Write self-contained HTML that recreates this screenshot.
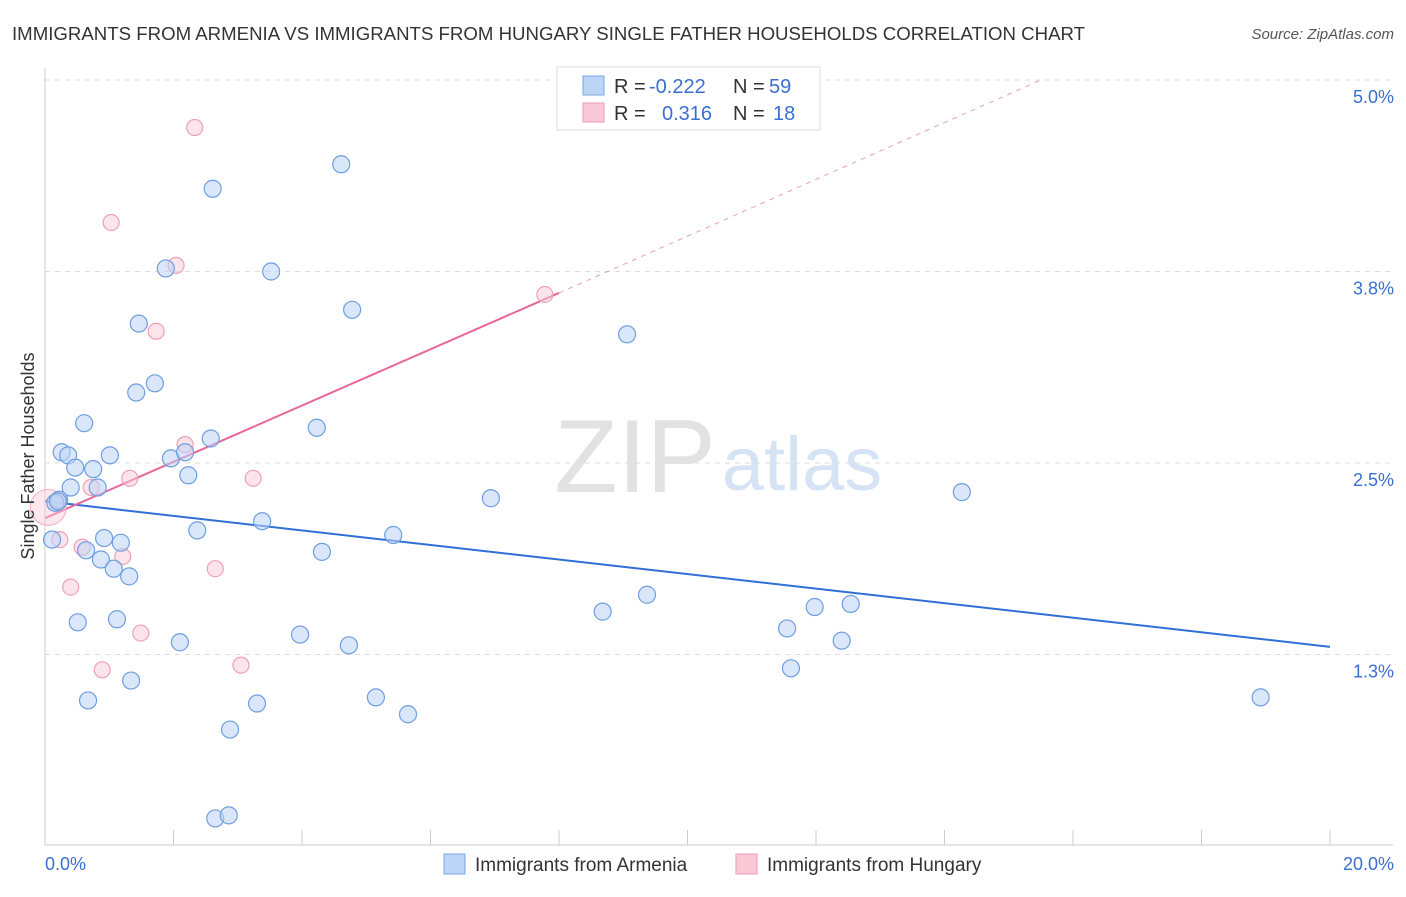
<!DOCTYPE html>
<html><head><meta charset="utf-8"><style>
body{margin:0;background:#fff;font-family:"Liberation Sans",sans-serif;}
svg text{font-family:"Liberation Sans",sans-serif;}
</style></head><body>
<svg id="chart" width="1406" height="892" xmlns="http://www.w3.org/2000/svg">
<text x="12" y="40" font-size="18" fill="#333" textLength="1073" lengthAdjust="spacingAndGlyphs">IMMIGRANTS FROM ARMENIA VS IMMIGRANTS FROM HUNGARY SINGLE FATHER HOUSEHOLDS CORRELATION CHART</text>
<text x="1394" y="39" font-size="15" fill="#555" font-style="italic" text-anchor="end">Source: ZipAtlas.com</text>
<g><text x="635" y="492" font-size="104" fill="#e2e2e2" font-family="Liberation Serif" text-anchor="middle">ZIP</text><text x="802" y="490" font-size="76" fill="#d6e3f5" text-anchor="middle">atlas</text></g>
<g id="grid"></g><g id="axes"></g><g id="lines"></g><g id="pts"></g>
<text transform="translate(34,456) rotate(-90)" font-size="18" fill="#333" text-anchor="middle">Single Father Households</text>
<text x="45" y="870" font-size="18" fill="#3a6fd0">0.0%</text>
<text x="1394" y="870" font-size="18" fill="#3a6fd0" text-anchor="end">20.0%</text>
<g>
<rect x="557" y="67" width="263" height="63" fill="#fff" stroke="#ddd"/>
<rect x="583" y="76" width="21" height="19" fill="#bcd4f5" stroke="#7aa6e6"/>
<rect x="583" y="103" width="21" height="19" fill="#f9c9d8" stroke="#ee9ab5"/>
<text x="614" y="93" font-size="20" fill="#333">R =</text>
<text x="649" y="93" font-size="20" fill="#3a6fd0">-0.222</text>
<text x="733" y="93" font-size="20" fill="#333">N =</text>
<text x="769" y="93" font-size="20" fill="#3a6fd0">59</text>
<text x="614" y="120" font-size="20" fill="#333">R =</text>
<text x="662" y="120" font-size="20" fill="#3a6fd0">0.316</text>
<text x="733" y="120" font-size="20" fill="#333">N =</text>
<text x="773" y="120" font-size="20" fill="#3a6fd0">18</text>
</g>
<g>
<rect x="444" y="854" width="21" height="20" fill="#bcd4f5" stroke="#7aa6e6"/>
<text x="475" y="871" font-size="19" fill="#333">Immigrants from Armenia</text>
<rect x="736" y="854" width="21" height="20" fill="#f9c9d8" stroke="#ee9ab5"/>
<text x="767" y="871" font-size="19" fill="#333">Immigrants from Hungary</text>
</g>
</svg>
<script>
const yTicks=[5.0,3.75,2.5,1.25];
const yTickLabels=["5.0%","3.8%","2.5%","1.3%"];
const xTicks=[0,2,4,6,8,10,12,14,16,18,20];
const armeniaX=[4.61,2.61,1.88,3.52,4.78,1.46,9.06,1.71,1.42,0.61,4.23,2.58,0.26,0.36,1.01,1.96,2.18,0.47,0.75,2.23,0.82,0.40,0.22,0.16,6.94,14.27,3.38,2.37,5.42,0.11,0.92,1.18,0.64,4.31,0.87,1.07,1.31,9.37,8.68,11.98,12.54,0.51,1.12,11.55,3.97,2.10,4.73,12.40,11.61,1.34,0.67,5.15,3.30,5.65,18.92,2.88,2.65,2.86,0.20];
const armeniaY=[4.45,4.29,3.77,3.75,3.50,3.41,3.34,3.02,2.96,2.76,2.73,2.66,2.57,2.55,2.55,2.53,2.57,2.47,2.46,2.42,2.34,2.34,2.26,2.24,2.27,2.31,2.12,2.06,2.03,2.00,2.01,1.98,1.93,1.92,1.87,1.81,1.76,1.64,1.53,1.56,1.58,1.46,1.48,1.42,1.38,1.33,1.31,1.34,1.16,1.08,0.95,0.97,0.93,0.86,0.97,0.76,0.18,0.20,2.25];
const hungaryX=[2.33,1.03,2.04,1.73,2.18,3.24,1.32,0.72,7.78,0.22,0.23,0.58,1.21,0.40,2.65,1.49,0.89,3.05];
const hungaryY=[4.69,4.07,3.79,3.36,2.62,2.40,2.40,2.34,3.60,2.25,2.00,1.95,1.89,1.69,1.81,1.39,1.15,1.18];
const bigHungary=[0.05,2.21];
const armeniaTrend=[[0,2.25],[20,1.30]];
const hungaryTrend=[[0,2.14],[8.0,3.61]];
const hungaryTrendExt=[[8.0,3.61],[15.5,5.0]];
const X=v=>45+v*64.25, Y=v=>80+(5-v)*153.2;
const NS="http://www.w3.org/2000/svg";
function mk(p,t,a){const e=document.createElementNS(NS,t);for(const k in a)e.setAttribute(k,a[k]);document.getElementById(p).appendChild(e);return e;}
yTicks.forEach((t,i)=>{
 let g=mk('grid','line',{x1:45,x2:1393,y1:Y(t),y2:Y(t),stroke:'#ddd','stroke-dasharray':'5,5'});
 
 
 let l=mk('grid','text',{x:1394,y:Y(t)+23,'font-size':18,fill:'#3a6fd0','text-anchor':'end'});l.textContent=yTickLabels[i];
 
 
});
let ax=mk('axes','line',{x1:45,x2:1393,y1:845,y2:845,stroke:'#ccc'});


let ay=mk('axes','line',{x1:45,x2:45,y1:68,y2:845,stroke:'#ccc'});


xTicks.forEach(t=>{let k=mk('axes','line',{x1:X(t),x2:X(t),y1:830,y2:845,stroke:'#ccc'});
 
 });
function ln(d,c,w,dash,name){let e=mk('lines','line',{x1:X(d[0][0]),y1:Y(d[0][1]),x2:X(d[1][0]),y2:Y(d[1][1]),stroke:c,'stroke-width':w});if(dash)e.setAttribute('stroke-dasharray',dash);
 
 }
ln(armeniaTrend,'#2f6fd6',2,null,'armenia-trend-line');
ln(hungaryTrend,'#e8679a',2,null,'hungary-trend-line');
ln(hungaryTrendExt,'#e8a0bb',1,'5,5','hungary-trend-extension');
let b=mk('pts','circle',{cx:X(bigHungary[0]),cy:Y(bigHungary[1]),r:18,fill:'rgba(249,201,216,0.45)',stroke:'#f0b0c6'});


hungaryX.forEach((x,i)=>{let c=mk('pts','circle',{cx:X(x),cy:Y(hungaryY[i]),r:8,fill:'rgba(249,201,216,0.5)',stroke:'#eea0ba','stroke-width':1.2});
 
 });
armeniaX.forEach((x,i)=>{let c=mk('pts','circle',{cx:X(x),cy:Y(armeniaY[i]),r:8.5,fill:'rgba(188,212,245,0.55)',stroke:'#6e9ee0','stroke-width':1.2});
 
 });
</script>
</body></html>
